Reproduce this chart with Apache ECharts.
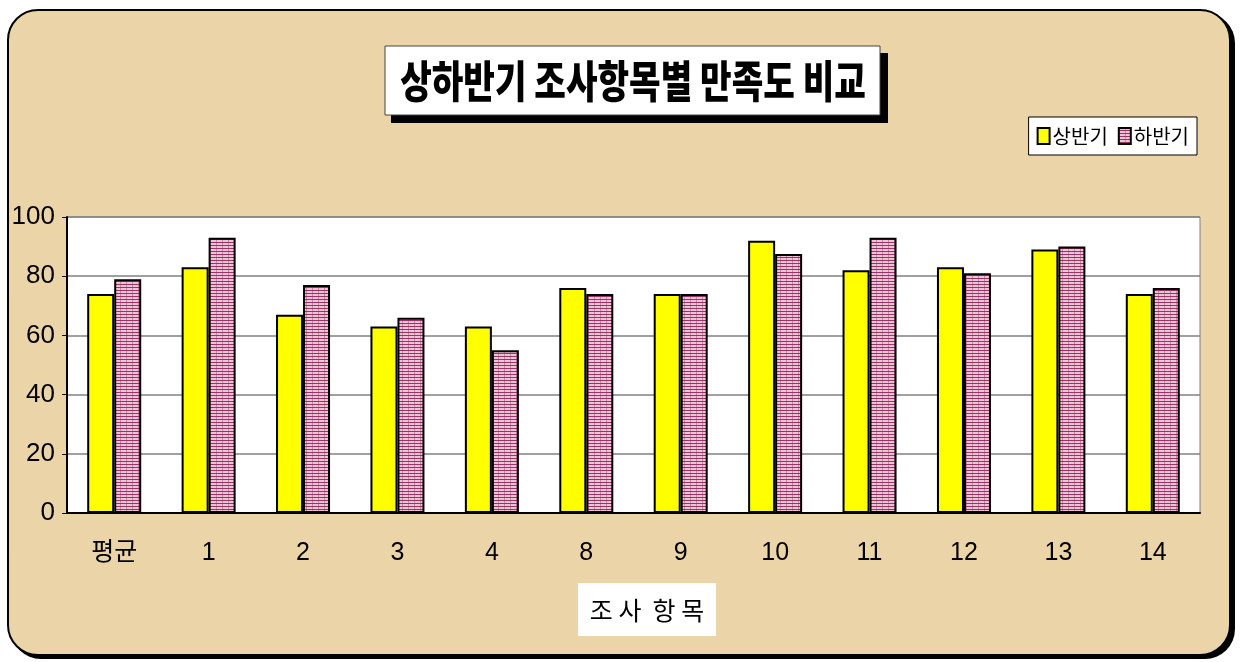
<!DOCTYPE html>
<html>
<head>
<meta charset="utf-8">
<script src="https://cdn.jsdelivr.net/npm/echarts@6/dist/echarts.min.js"></script>
<style>
  html, body { margin: 0; padding: 0; background: #fff; }
  #chart { width: 1240px; height: 662px; }
</style>
</head>
<body>
<div id="chart"></div>
<script>
const categories = ['평균', '1', '2', '3', '4', '8', '9', '10', '11', '12', '13', '14']
const firstHalf = [74, 83, 67, 63, 63, 76, 74, 92, 82, 83, 89, 74] // 상반기
const secondHalf = [79, 93, 77, 66, 55, 74, 74, 87.5, 93, 81, 90, 76] // 하반기
const seriesNames = ['상반기', '하반기']
const yTicks = [0, 20, 40, 60, 80, 100]

const KR = '"Noto Sans CJK KR", "Liberation Sans", sans-serif'
const NUM = '"Liberation Sans", "Noto Sans CJK KR", sans-serif'

// 하반기 막대의 가로줄 무늬
function stripePattern() {
  const c = document.createElement('canvas')
  c.width = 6
  c.height = 3
  const ctx = c.getContext('2d')
  ctx.fillStyle = '#efc3d6'
  ctx.fillRect(0, 0, 6, 3)
  ctx.fillStyle = '#c98aa8'
  ctx.fillRect(0, 0, 1, 3)
  ctx.fillStyle = '#99346a'
  ctx.fillRect(0, 2, 6, 1)
  return c
}

const chart = echarts.init(document.getElementById('chart'))

const option = {
  backgroundColor: '#ffffff',
  animation: false,
  graphic: [
    { // 바깥 테두리 그림자
      type: 'rect', z: -10, silent: true,
      shape: { x: 11, y: 13, width: 1224, height: 646, r: 30 },
      style: { fill: '#000' }
    },
    { // 바깥 배경
      type: 'rect', z: -9, silent: true,
      shape: { x: 8, y: 10, width: 1222, height: 645, r: 30 },
      style: { fill: '#ead4a8', stroke: '#000', lineWidth: 2 }
    },
    { // 제목 그림자
      type: 'rect', z: 10, silent: true,
      shape: { x: 391, y: 53, width: 497, height: 70 },
      style: { fill: '#000' }
    },
    { // 제목 상자
      type: 'rect', z: 11, silent: true,
      shape: { x: 385, y: 46, width: 495, height: 69 },
      style: { fill: '#fff', stroke: '#444', lineWidth: 1 }
    },
    {
      type: 'text', z: 12, silent: true,
      x: 633, y: 81, scaleX: 0.78,
      style: {
        text: '상하반기 조사항목별 만족도 비교',
        font: '900 44px "Noto Sans CJK KR", sans-serif',
        fill: '#000',
        align: 'center',
        verticalAlign: 'middle'
      }
    },
    { // x축 제목
      type: 'rect', z: 10, silent: true,
      shape: { x: 578, y: 583, width: 138, height: 53 },
      style: { fill: '#fff' }
    },
    {
      type: 'text', z: 11, silent: true,
      x: 647, y: 610,
      style: {
        text: '조 사  항 목',
        font: '25px "Noto Sans CJK KR", sans-serif',
        fill: '#000',
        align: 'center',
        verticalAlign: 'middle'
      }
    }
  ],
  legend: {
    data: seriesNames,
    icon: 'rect',
    right: 43,
    top: 117,
    itemWidth: 12,
    itemHeight: 16,
    itemGap: 10,
    padding: [9, 8, 9, 8],
    backgroundColor: '#fff',
    borderColor: '#000',
    borderWidth: 1,
    textStyle: { fontFamily: KR, fontSize: 20, color: '#000', padding: [0, 0, 0, -2] }
  },
  grid: {
    left: 67,
    right: 40,
    top: 217,
    bottom: 149,
    show: true,
    backgroundColor: '#fff',
    borderColor: '#808080',
    borderWidth: 1
  },
  xAxis: {
    type: 'category',
    data: categories,
    axisLine: { lineStyle: { color: '#000', width: 2 } },
    axisTick: { inside: true, length: 6, lineStyle: { color: '#000' } },
    axisLabel: { fontFamily: NUM, fontSize: 25, color: '#000', margin: 28 }
  },
  yAxis: {
    type: 'value',
    min: 0,
    max: 100,
    interval: 20,
    axisLine: { show: true, lineStyle: { color: '#000', width: 2 } },
    axisTick: { show: true, length: 5, lineStyle: { color: '#000' } },
    axisLabel: {
      fontFamily: NUM, fontSize: 26, color: '#000', margin: 12,
      formatter: v => (yTicks.includes(v) ? String(v) : '')
    },
    splitLine: { lineStyle: { color: '#808080', width: 1.5 } }
  },
  series: [
    {
      name: seriesNames[0],
      type: 'bar',
      data: firstHalf,
      barWidth: 27,
      barGap: '0%',
      itemStyle: { color: '#ffff00', borderColor: '#000', borderWidth: 2 }
    },
    {
      name: seriesNames[1],
      type: 'bar',
      data: secondHalf,
      barWidth: 27,
      itemStyle: {
        color: { image: stripePattern(), repeat: 'repeat' },
        borderColor: '#000',
        borderWidth: 2
      }
    }
  ]
}

chart.setOption(option)
</script>
</body>
</html>
